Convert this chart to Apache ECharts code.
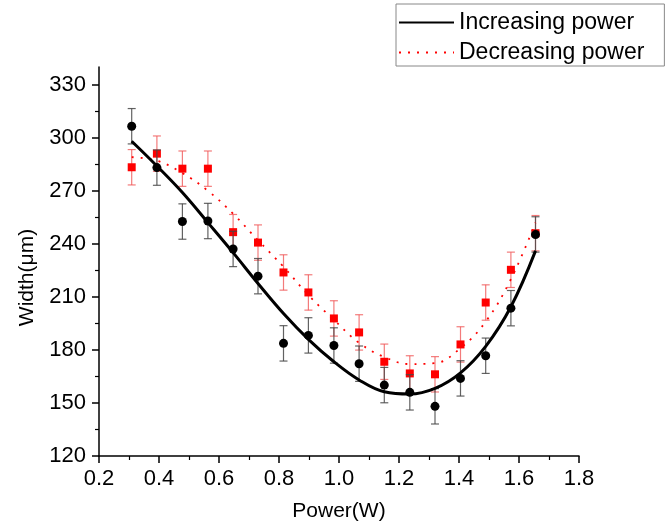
<!DOCTYPE html>
<html>
<head>
<meta charset="utf-8">
<script src="https://cdn.jsdelivr.net/npm/echarts@6/dist/echarts.min.js"></script>
<style>html,body{margin:0;padding:0;background:#fff}#c{width:666px;height:529px}</style>
</head>
<body>
<div id="c"></div>
<script>
// Power (W)
const power = [0.309, 0.393, 0.478, 0.563, 0.647, 0.730, 0.815, 0.898, 0.983, 1.067, 1.151, 1.236, 1.320, 1.405, 1.489, 1.573, 1.655];
// Measured widths (um)
const incWidth = [306.5, 283.1, 252.6, 252.9, 237.1, 221.7, 183.7, 188.2, 182.5, 172.2, 160.1, 156.0, 148.1, 163.9, 176.7, 203.6, 245.3];
const decWidth = [283.3, 291.0, 282.5, 282.5, 246.6, 240.7, 223.8, 212.5, 197.8, 189.9, 173.3, 166.7, 166.2, 183.1, 206.8, 225.3, 246.0];
// Error bar half-widths (um)
const incErr = [10, 10, 10, 10, 10, 10, 10, 10, 10, 10, 10, 10, 10, 10, 10, 10, 10];
const decErr = [10, 10, 10, 10, 10, 10, 10, 10, 10, 10, 10, 10, 10, 10, 10, 10, 10];
// Fitted curves
const incFit = [298, 284, 269, 252, 235, 217.6, 200.6, 186, 173.3, 163, 156.3, 155, 158.2, 167, 182, 204.4, 236];
const decFit = [289, 287, 280, 270, 257, 242, 227, 211, 197, 184, 176, 172, 172.5, 181, 196, 220, 252];
// Axis ticks
const yMajor = [120, 150, 180, 210, 240, 270, 300, 330];
const yMinor = [135, 165, 195, 225, 255, 285, 315];

const FONT = 'Liberation Sans, Arial, sans-serif';
const zip = (a, b) => a.map((v, i) => [v, b[i]]);
const errData = (ys, es) => power.map((x, i) => [x, ys[i] - es[i], ys[i] + es[i]]);

function errRender(color) {
  return function (params, api) {
    const x = api.value(0);
    const p1 = api.coord([x, api.value(1)]);
    const p2 = api.coord([x, api.value(2)]);
    const h = 4;
    const st = { stroke: color, lineWidth: 1.2 };
    return {
      type: 'group',
      children: [
        { type: 'line', shape: { x1: p1[0], y1: p1[1], x2: p2[0], y2: p2[1] }, style: st },
        { type: 'line', shape: { x1: p1[0] - h, y1: p1[1], x2: p1[0] + h, y2: p1[1] }, style: st },
        { type: 'line', shape: { x1: p2[0] - h, y1: p2[1], x2: p2[0] + h, y2: p2[1] }, style: st }
      ]
    };
  };
}

const noSym = { color: 'rgba(0,0,0,0)', borderWidth: 0, borderColor: 'rgba(0,0,0,0)' };

const chart = echarts.init(document.getElementById('c'), null, { renderer: 'canvas' });
chart.setOption({
  animation: false,
  backgroundColor: '#fff',
  textStyle: { fontFamily: FONT },
  grid: { left: 99, right: 87, top: 67, bottom: 73, containLabel: false },
  legend: {
    orient: 'vertical',
    left: 396, top: 4,
    padding: [7, 20, 2, 2],
    itemGap: 7,
    itemWidth: 55, itemHeight: 14,
    borderColor: '#888', borderWidth: 1,
    selectedMode: false,
    textStyle: { fontSize: 23, color: '#000', fontFamily: FONT },
    data: [
      { name: 'Increasing power', itemStyle: noSym },
      { name: 'Decreasing power', itemStyle: noSym }
    ]
  },
  xAxis: {
    type: 'value', min: 0.2, max: 1.8, interval: 0.2,
    name: 'Power(W)', nameLocation: 'middle', nameGap: 45,
    nameTextStyle: { fontSize: 21, color: '#000', fontFamily: FONT },
    axisLine: { show: true, lineStyle: { color: '#000', width: 1.5 } },
    axisTick: { show: true, inside: false, length: 7, lineStyle: { color: '#000', width: 1.5 } },
    minorTick: { show: true, splitNumber: 2, length: 4, lineStyle: { color: '#000', width: 1.2 } },
    axisLabel: { fontSize: 22, color: '#000', margin: 12, formatter: v => v.toFixed(1), fontFamily: FONT },
    splitLine: { show: false }
  },
  yAxis: [{
    type: 'value', min: 120, max: 340, interval: 10,
    name: 'Width(μm)', nameLocation: 'middle', nameGap: 61,
    nameTextStyle: { fontSize: 21, color: '#000', fontFamily: FONT, padding: [0, 32, 0, 0] },
    axisLine: { show: true, onZero: false, lineStyle: { color: '#000', width: 1.5 } },
    axisTick: { show: true, inside: false, length: 7, customValues: yMajor, lineStyle: { color: '#000', width: 1.5 } },
    axisLabel: { fontSize: 22, color: '#000', margin: 13, customValues: yMajor, fontFamily: FONT },
    splitLine: { show: false }
  }, {
    type: 'value', min: 120, max: 340, interval: 10, position: 'left',
    axisLine: { show: false },
    axisTick: { show: true, inside: false, length: 4, customValues: yMinor, lineStyle: { color: '#000', width: 1.2 } },
    axisLabel: { show: false },
    splitLine: { show: false }
  }],
  series: [
    {
      name: 'decErr', type: 'custom', renderItem: errRender('rgba(240,90,90,0.8)'),
      data: errData(decWidth, decErr), encode: { x: 0, y: [1, 2] }, z: 2
    },
    {
      name: 'decPts', type: 'scatter', symbol: 'rect', symbolSize: 8,
      itemStyle: { color: '#ff0000', opacity: 1 }, data: zip(power, decWidth), z: 3
    },
    {
      name: 'incErr', type: 'custom', renderItem: errRender('rgba(70,70,70,0.85)'),
      data: errData(incWidth, incErr), encode: { x: 0, y: [1, 2] }, z: 4
    },
    {
      name: 'incPts', type: 'scatter', symbol: 'circle', symbolSize: 9,
      itemStyle: { color: '#000', opacity: 1 }, data: zip(power, incWidth), z: 5
    },
    {
      name: 'Decreasing power', type: 'line', symbol: 'none', smooth: 0.4,
      lineStyle: { color: '#ff0000', width: 1.8, type: [2, 7] },
      itemStyle: { color: '#ff0000' },
      data: zip(power, decFit), z: 6
    },
    {
      name: 'Increasing power', type: 'line', symbol: 'none', smooth: 0.4,
      lineStyle: { color: '#000', width: 3 },
      itemStyle: { color: '#000' },
      data: zip(power, incFit), z: 6
    }
  ]
});
</script>
</body>
</html>
